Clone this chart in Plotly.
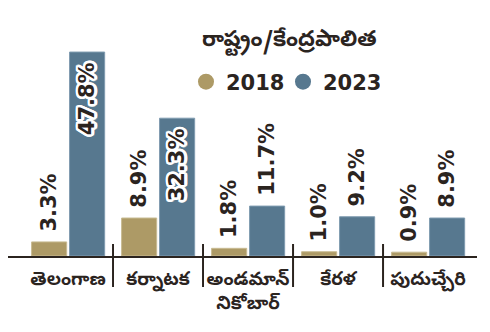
import math
import plotly.graph_objects as go

categories = ["తెలంగాణ", "కర్నాటక", "అండమాన్<br>నికోబార్", "కేరళ", "పుదుచ్చేరి"]
series_names = ["2018", "2023"]
values_2018 = [3.3, 8.9, 1.8, 1.0, 0.9]
values_2023 = [47.8, 32.3, 11.7, 9.2, 8.9]
title_text = "రాష్ట్రం/కేంద్రపాలిత"

C18 = "#ad9a66"
C23 = "#57788f"
E18 = "#c8bb92"
E23 = "#7f9bb0"
DARK = "#2b241f"
x = list(range(len(categories)))

NUMFONT = "DejaVu Sans"
TEFONT = "Noto Sans Telugu, Noto Sans, sans-serif"
halo = ", ".join(
    f"{2.6 * math.cos(a * math.pi / 8):.2f}px {2.6 * math.sin(a * math.pi / 8):.2f}px 0 #ffffff" for a in range(16)
)

def positions(vals):
    return ["inside" if v > 20 else "outside" for v in vals]

fig = go.Figure()
for name, vals, col, edge, off in [(series_names[0], values_2018, C18, E18, -0.405),
                                   (series_names[1], values_2023, C23, E23, 0.017)]:
    fig.add_trace(go.Bar(
        x=x, y=vals, name=name, showlegend=False,
        width=0.39, offset=off,
        marker=dict(color=col, line=dict(color=edge, width=1)),
        text=[f"\u00a0{v:.1f}%\u00a0" for v in vals],
        textposition=positions(vals), textangle=-90,
        insidetextanchor="end", constraintext="none", cliponaxis=False,
        insidetextfont=dict(family=NUMFONT, size=21, color=DARK, weight="bold", shadow=halo),
        outsidetextfont=dict(family=NUMFONT, size=21, color=DARK, weight="bold"),
    ))
    fig.add_trace(go.Scatter(
        x=[None], y=[None], mode="markers", name=name,
        marker=dict(color=col, size=19, symbol="circle"),
    ))

for i in range(len(categories) - 1):
    fig.add_shape(type="line", xref="x", yref="paper", x0=i + 0.5, x1=i + 0.5,
                  y0=12 / 256, y1=-31 / 256, line=dict(color=DARK, width=2))

fig.add_annotation(text=title_text, xref="paper", yref="paper", x=(289.5 - 8) / 469, y=1 - 42 / 256,
                   showarrow=False, xanchor="center", yanchor="middle",
                   font=dict(family=TEFONT, size=22, color=DARK, weight="bold"))

fig.update_layout(
    width=490, height=332,
    margin=dict(l=8, r=13, t=0, b=76),
    paper_bgcolor="white", plot_bgcolor="white",
    barmode="overlay",
    showlegend=True,
    legend=dict(orientation="h", x=(186 - 8) / 469, y=1 - 82 / 256, xanchor="left", yanchor="middle",
                font=dict(family=NUMFONT, size=21, color=DARK, weight="bold"),
                itemsizing="trace", bgcolor="rgba(0,0,0,0)", tracegroupgap=0, entrywidth=52),
    xaxis=dict(range=[-0.667, 4.544], tickmode="array", tickvals=x, ticktext=categories,
               showline=True, linecolor=DARK, linewidth=2, ticks="", showgrid=False, zeroline=False,
               ticklabelstandoff=5,
               tickfont=dict(family=TEFONT, size=18.5, color=DARK, weight="bold"), fixedrange=True),
    yaxis=dict(range=[0, 60], visible=False, showgrid=False, zeroline=False, fixedrange=True),
)

fig.write_html("out.html")
